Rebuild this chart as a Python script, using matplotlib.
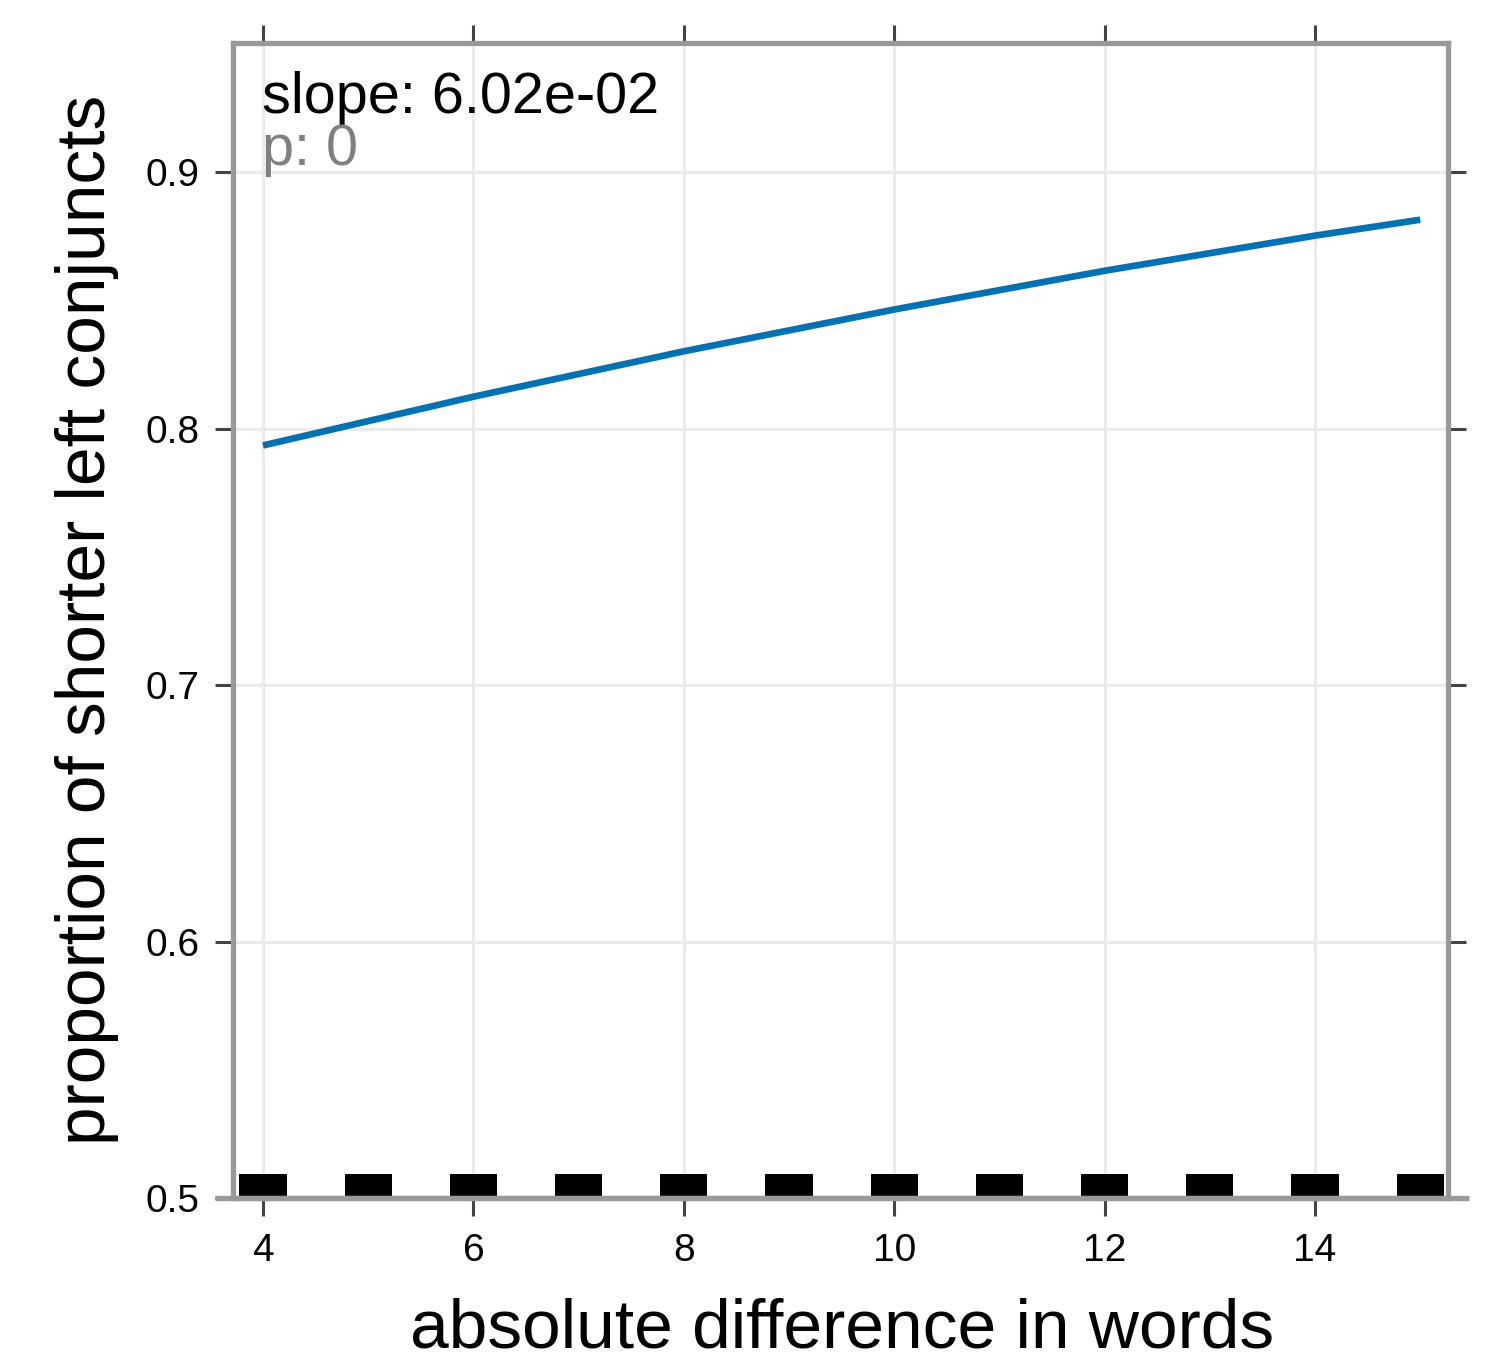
# Effektplot: Anteil kuerzerer linker Konjunkte ueber absolute Laengendifferenz

import numpy as np
import matplotlib.pyplot as plt

plt.rcParams['font.family'] = ['Liberation Sans', 'DejaVu Sans']

# Werte
diff_words = [4, 6, 8, 10, 12, 14, 15]
prop_left = [0.7934, 0.8124, 0.8301, 0.8464, 0.8615, 0.8752, 0.8814]
rug_x = [4, 5, 6, 7, 8, 9, 10, 11, 12, 13, 14, 15]
x_ticks = [4, 6, 8, 10, 12, 14]
y_ticks = [0.5, 0.6, 0.7, 0.8, 0.9]
slope_txt = 'slope: 6.02e-02'
p_txt = 'p: 0'

fig = plt.figure(figsize=(14.96, 13.67), dpi=100)
ax = fig.add_axes([233 / 1496, 1 - 1198 / 1367, 1215 / 1496, 1155 / 1367])

ax.set_xlim(3.715, 15.264)
ax.set_ylim(0.5, 0.9503)

# Gitter
for xv in x_ticks:
    ax.axvline(xv, color='#ebebeb', lw=2.2, zorder=0)
for yv in y_ticks[1:]:
    ax.axhline(yv, color='#ebebeb', lw=2.2, zorder=0)

# Kurve
ax.plot(diff_words, prop_left, color='#0072b2', lw=4.8, solid_capstyle='butt',
        solid_joinstyle='round', zorder=3)

# Rug
ax.bar(rug_x, 0.0094, bottom=0.5, width=0.45, color='black', zorder=2)

# Rahmen
for sp in ax.spines.values():
    sp.set_color('#999999')
    sp.set_linewidth(3.8)
    sp.set_zorder(4)
ax.plot([-0.015, 1.017], [0, 0], transform=ax.transAxes, color='#999999',
        lw=3.8, clip_on=False, zorder=4, solid_capstyle='butt')

ax.set_xticks(x_ticks)
ax.set_yticks(y_ticks)
ax.set_yticklabels(['0.5', '0.6', '0.7', '0.8', '0.9'])
ax.tick_params(axis='both', direction='out', length=13, width=2.2, color='#444444',
               labelsize=28, top=True, right=True)
ax.tick_params(axis='x', pad=12)
ax.tick_params(axis='y', pad=11)

# Texte
ax.text(0.024, 0.939, slope_txt, transform=ax.transAxes, fontsize=41.5,
        va='baseline', ha='left', color='black', zorder=5)
ax.text(0.024, 0.894, p_txt, transform=ax.transAxes, fontsize=41.5,
        va='baseline', ha='left', color='#808080', zorder=5)

fig.text(842 / 1496, 1 - 1348 / 1367, 'absolute difference in words', fontsize=50,
         ha='center', va='baseline')
fig.text(105 / 1496, 1 - 620 / 1367, 'proportion of shorter left conjuncts', fontsize=50,
         ha='center', va='baseline', rotation=90, rotation_mode='anchor')

fig.savefig('out.png', dpi=100)
